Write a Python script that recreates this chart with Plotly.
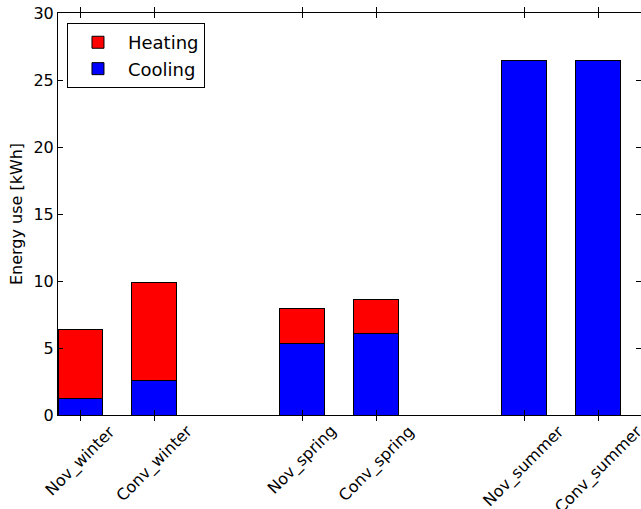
import plotly.graph_objects as go

categories = ["Nov_winter", "Conv_winter", "Nov_spring", "Conv_spring", "Nov_summer", "Conv_summer"]
cooling = [1.25, 2.55, 5.35, 6.05, 26.45, 26.45]
heating = [5.1, 7.35, 2.6, 2.55, 0.0, 0.0]
y_ticks = [0, 5, 10, 15, 20, 25, 30]

# two bars per season, one empty slot between seasons
xpos = [3 * (i // 2) + (i % 2) for i in range(len(categories))]

FONT = "DejaVu Sans"
fig = go.Figure()
fig.add_trace(go.Bar(x=xpos, y=cooling, name="Cooling", width=0.6,
                     marker=dict(color="#0000ff", line=dict(color="black", width=1))))
fig.add_trace(go.Bar(x=xpos, y=heating, name="Heating", width=0.6,
                     marker=dict(color="#ff0000", line=dict(color="black", width=1))))
# invisible trace to carry the right-hand tick marks
fig.add_trace(go.Scatter(x=[xpos[0]], y=[None], yaxis="y2", showlegend=False, hoverinfo="skip"))

for xp, name in zip(xpos, categories):
    fig.add_annotation(x=xp, y=0, xref="x", yref="paper", text=name, showarrow=False,
                       textangle=-45, xanchor="center", yanchor="top", yshift=-4,
                       font=dict(family=FONT, size=16, color="black"))

fig.update_layout(
    width=641, height=509,
    margin=dict(l=58, r=0, t=13, b=94),
    paper_bgcolor="white", plot_bgcolor="white",
    barmode="stack",
    font=dict(family=FONT, size=16, color="black"),
    showlegend=True,
    legend=dict(x=0.0154, y=0.975, xanchor="left", yanchor="top",
                bordercolor="black", borderwidth=1, bgcolor="white", itemwidth=50,
                font=dict(family=FONT, size=18), traceorder="reversed"),
    xaxis=dict(range=[-0.3, 7.58], tickvals=xpos, showticklabels=False,
               ticks="inside", ticklen=5, tickcolor="black", mirror="allticks",
               showline=True, linecolor="black", linewidth=1, showgrid=False, zeroline=False),
    yaxis=dict(range=[0, 30], tickvals=y_ticks, ticks="inside", ticklen=5, tickcolor="black",
               showline=True, linecolor="black", linewidth=1, showgrid=False, zeroline=False,
               ticklabeloverflow="allow",
               title=dict(text="Energy use [kWh]", font=dict(family=FONT, size=16), standoff=6),
               tickfont=dict(family=FONT, size=16)),
    yaxis2=dict(range=[0, 30], overlaying="y", side="right", tickvals=y_ticks, ticks="inside",
                ticklen=5, tickcolor="black", showticklabels=False, showline=False,
                showgrid=False, zeroline=False),
)
fig.write_html("out.html", config={"displayModeBar": False},
               post_script="document.body.style.margin='0px';")
